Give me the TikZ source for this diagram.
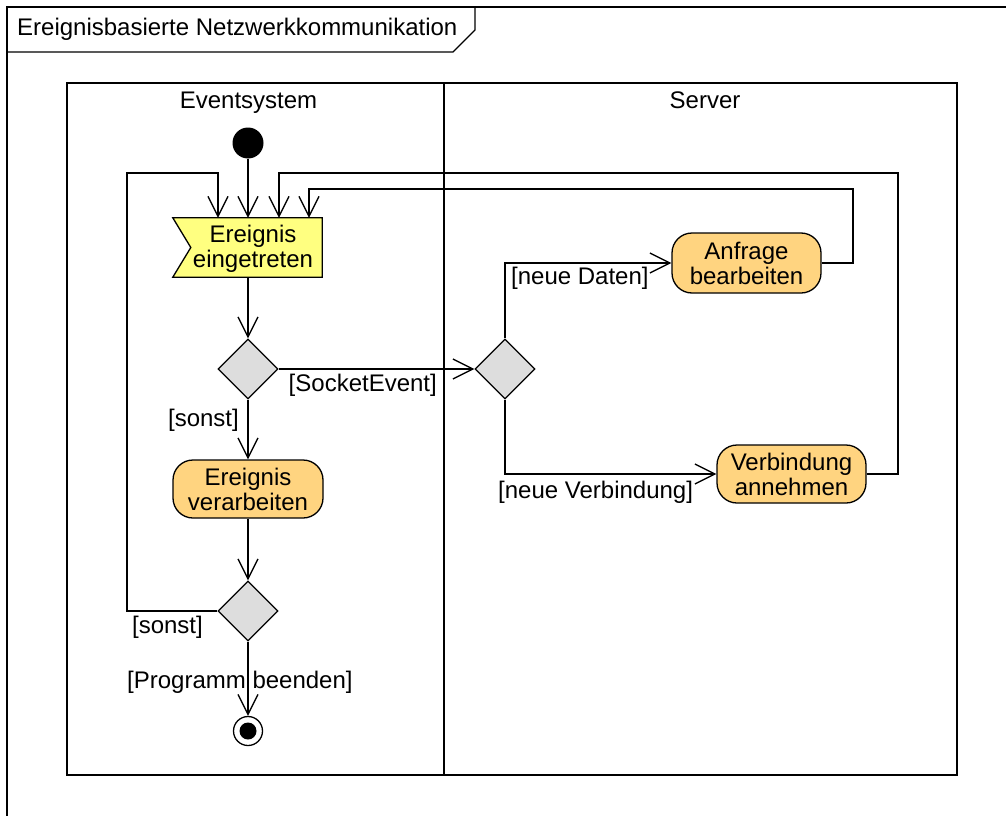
\documentclass[tikz,border=0pt]{standalone}
\usepackage{fontspec}
\setmainfont{Liberation Sans}
\usetikzlibrary{arrows.meta,shapes.geometric,calc}
\definecolor{sigfill}{HTML}{FFFF80}
\definecolor{actfill}{HTML}{FFD480}
\definecolor{decfill}{HTML}{DDDDDD}
\tikzset{
  every node/.style={font=\fontsize{24}{25}\selectfont},
  action/.style={rectangle, rounded corners=20pt, draw, fill=actfill,
    line width=1.3pt, align=center, inner sep=0pt},
  decision/.style={diamond, draw, fill=decfill, line width=1.3pt,
    minimum width=60pt, minimum height=60pt, inner sep=0pt},
  arr/.style={line width=1.3pt,
    -{Straight Barb[length=20pt,width=20pt,line width=1.3pt]}},
  lbl/.style={inner sep=0pt},
  frameline/.style={line width=1.6pt}
}
\begin{document}
\begin{tikzpicture}[x=1pt,y=-1pt]
\useasboundingbox (0,0) rectangle (1006,816);

% outer diagram frame and its name tab
\draw[frameline] (7,820) -- (7,7) -- (1010,7);
\draw[line width=1.3pt] (7,52) -- (453,52) -- (475,30) -- (475,7);
\node[lbl, anchor=base west] (title) at (17,36) {Ereignisbasierte Netzwerkkommunikation};

% swimlanes
\draw[frameline] (67,83) rectangle (957,775);
\draw[line width=2.8pt] (444,83) -- (444,775);
\node[lbl, anchor=base] (lane1) at (248.5,108) {Eventsystem};
\node[lbl, anchor=base] (lane2) at (705,108) {Server};

% start node
\node[circle, fill=black, minimum size=31pt, inner sep=0pt] (start) at (248,143) {};

% signal receipt: Ereignis eingetreten
\node[minimum width=149pt, minimum height=59pt, inner sep=0pt] (ev) at (247.5,247.5) {};
\draw[fill=sigfill, line width=1.3pt] (ev.north west) -- (ev.north east)
  -- (ev.south east) -- (ev.south west) -- ([xshift=18pt]ev.west) -- cycle;
\node[align=center, inner sep=0pt] (evtext) at (253,248.5) {Ereignis\\eingetreten};

% decisions and actions
\node[decision] (d1) at (248,369) {};
\node[action, minimum width=150pt, minimum height=58pt] (act) at (248,489) {Ereignis\\verarbeiten};
\node[decision] (d3) at (248,611) {};
\node[circle, draw, line width=1.3pt, fill=white, minimum size=29pt, inner sep=0pt] (end) at (248,731) {};
\node[circle, fill=black, minimum size=17pt, inner sep=0pt] (endc) at (end.center) {};

\node[decision] (d2) at (505,369) {};
\node[action, minimum width=149pt, minimum height=60pt] (af) at (746.5,263) {Anfrage\\bearbeiten};
\node[action, minimum width=149pt, minimum height=58pt] (an) at (791.5,474) {Verbindung\\annehmen};

% entry points on top of the signal and loop corners
\coordinate (in1) at ([xshift=-29.5pt]ev.north);
\coordinate (in3) at ([xshift=31.5pt]ev.north);
\coordinate (in4) at ([xshift=61.5pt]ev.north);
\coordinate (lb) at (127,173);
\coordinate (rb1) at (898,173);
\coordinate (rb2) at (853,189);

% flows
\draw[arr] (start) -- (start |- ev.north);
\draw[arr] (d1 |- ev.south) -- (d1.north);
\draw[arr] (d1.south) -- (act.north);
\draw[arr] (act.south) -- (d3.north);
\draw[arr] (d3.south) -- (end.north);
\draw[arr] (d1.east) -- (d2.west);
\draw[arr] (d3.west) -| (lb) -| (in1);
\draw[arr] (an.east) -| (rb1) -| (in3);
\draw[arr] (af.east) -| (rb2) -| (in4);
\draw[arr] (d2.north) |- (af.west);
\draw[arr] (d2.south) |- (an.west);

% guards
\node[lbl, anchor=base east] (g1) at (437,391) {[SocketEvent]};
\node[lbl, anchor=base east] (g2) at (239,426) {[sonst]};
\node[lbl, anchor=base east] (g3) at (203,633) {[sonst]};
\node[lbl, anchor=base west] (g4) at (127,688) {[Programm beenden]};
\node[lbl, anchor=base west] (g5) at (511,284) {[neue Daten]};
\node[lbl, anchor=base west] (g6) at (498,498) {[neue Verbindung]};
\end{tikzpicture}
\end{document}
